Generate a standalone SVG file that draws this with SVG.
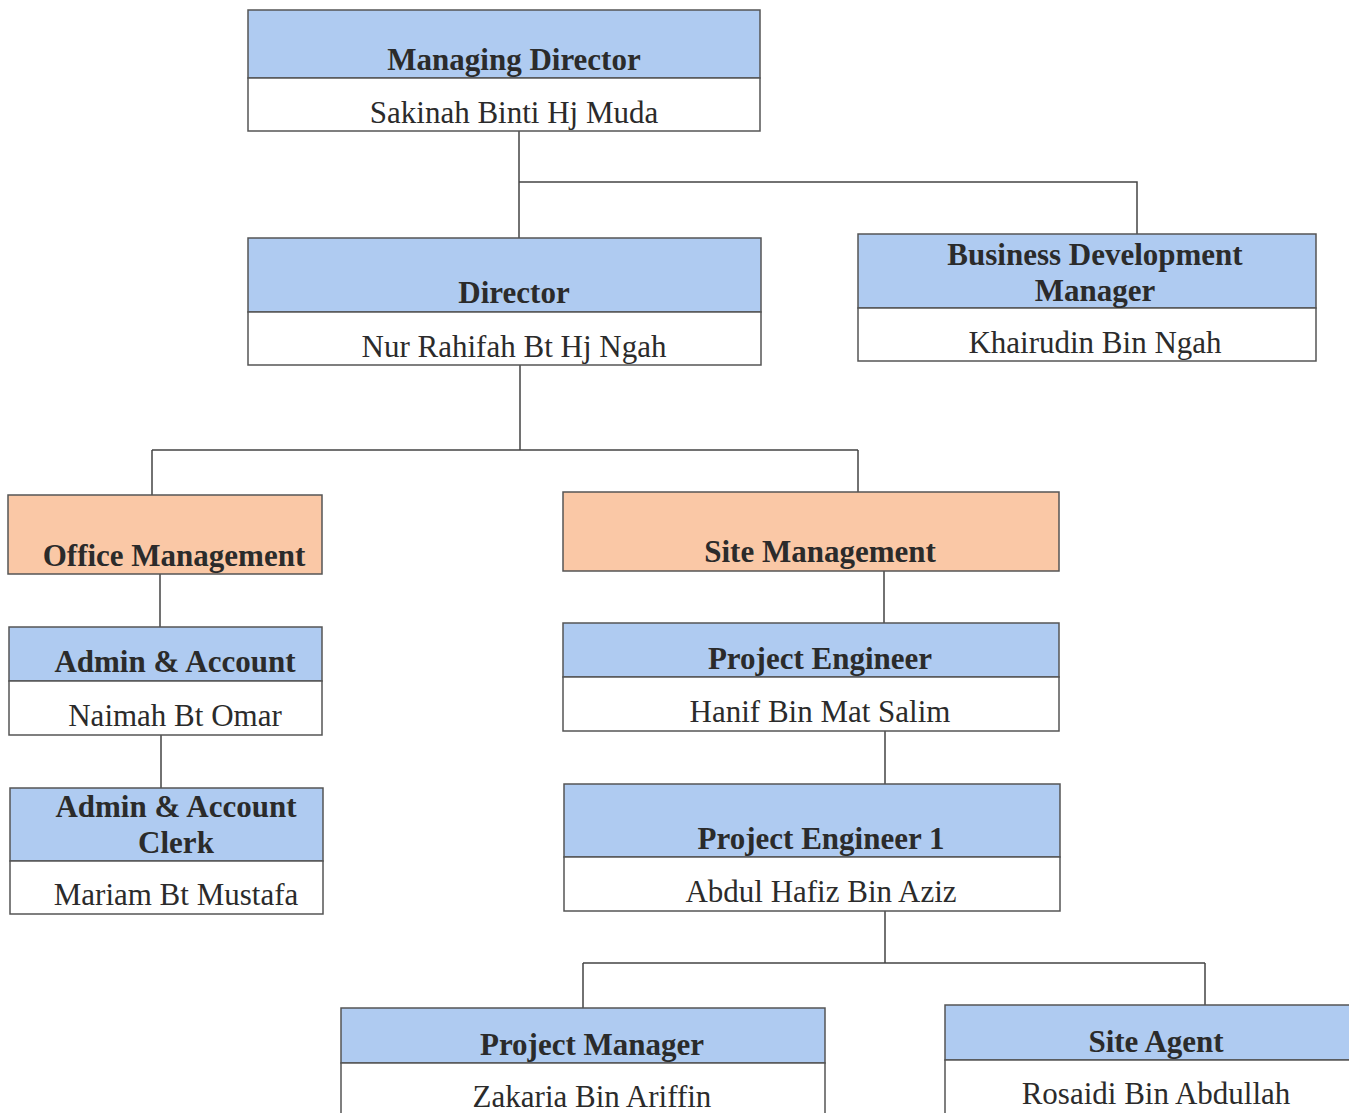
<svg xmlns="http://www.w3.org/2000/svg" width="1349" height="1113" viewBox="0 0 1349 1113">
<style>
.hd{fill:#afcbf1;stroke:#555;stroke-width:1.5}
.or{fill:#fac8a6;stroke:#555;stroke-width:1.5}
.bd{fill:#fff;stroke:#555;stroke-width:1.5}
.t{font-family:"Liberation Serif","Times New Roman",serif;font-size:31px;fill:#2b2b2b;text-anchor:middle}
.b{font-weight:bold}
.c{fill:none;stroke:#444;stroke-width:1.5}
</style>
<rect width="1349" height="1113" fill="#fff"/>
<g id="connectors">
<path class="c" d="M519 131V238M519 182H1137V234"/>
<path class="c" d="M520 365V450M152 450H858M152 450V495M858 450V492"/>
<path class="c" d="M160 574V627M161 735V788"/>
<path class="c" d="M884 571V623M885 731V784M885 911V963M583 963H1205M583 963V1008M1205 963V1005"/>
</g>
<g id="managing-director">
<rect class="hd" x="248" y="10" width="512" height="68"/>
<rect class="bd" x="248" y="78" width="512" height="53"/>
<text class="t b" x="514" y="70">Managing Director</text>
<text class="t" x="514" y="123">Sakinah Binti Hj Muda</text>
</g>
<g id="director">
<rect class="hd" x="248" y="238" width="513" height="74"/>
<rect class="bd" x="248" y="312" width="513" height="53"/>
<text class="t b" x="514" y="303">Director</text>
<text class="t" x="514" y="357">Nur Rahifah Bt Hj Ngah</text>
</g>
<g id="business-development-manager">
<rect class="hd" x="858" y="234" width="458" height="74"/>
<rect class="bd" x="858" y="308" width="458" height="53"/>
<text class="t b" x="1095" y="265">Business Development</text>
<text class="t b" x="1095" y="301">Manager</text>
<text class="t" x="1095" y="353">Khairudin Bin Ngah</text>
</g>
<g id="office-management">
<rect class="or" x="8" y="495" width="314" height="79"/>
<text class="t b" x="174" y="566">Office Management</text>
</g>
<g id="site-management">
<rect class="or" x="563" y="492" width="496" height="79"/>
<text class="t b" x="820" y="562">Site Management</text>
</g>
<g id="admin-account">
<rect class="hd" x="9" y="627" width="313" height="54"/>
<rect class="bd" x="9" y="681" width="313" height="54"/>
<text class="t b" x="175" y="672">Admin &amp; Account</text>
<text class="t" x="175" y="726">Naimah Bt Omar</text>
</g>
<g id="admin-account-clerk">
<rect class="hd" x="10" y="788" width="313" height="73"/>
<rect class="bd" x="10" y="861" width="313" height="53"/>
<text class="t b" x="176" y="817">Admin &amp; Account</text>
<text class="t b" x="176" y="853">Clerk</text>
<text class="t" x="176" y="905">Mariam Bt Mustafa</text>
</g>
<g id="project-engineer">
<rect class="hd" x="563" y="623" width="496" height="54"/>
<rect class="bd" x="563" y="677" width="496" height="54"/>
<text class="t b" x="820" y="669">Project Engineer</text>
<text class="t" x="820" y="722">Hanif Bin Mat Salim</text>
</g>
<g id="project-engineer-1">
<rect class="hd" x="564" y="784" width="496" height="73"/>
<rect class="bd" x="564" y="857" width="496" height="54"/>
<text class="t b" x="821" y="849">Project Engineer 1</text>
<text class="t" x="821" y="902">Abdul Hafiz Bin Aziz</text>
</g>
<g id="project-manager">
<rect class="hd" x="341" y="1008" width="484" height="55"/>
<rect class="bd" x="341" y="1063" width="484" height="60"/>
<text class="t b" x="592" y="1055">Project Manager</text>
<text class="t" x="592" y="1107">Zakaria Bin Ariffin</text>
</g>
<g id="site-agent">
<rect class="hd" x="945" y="1005" width="410" height="55"/>
<rect class="bd" x="945" y="1060" width="410" height="60"/>
<text class="t b" x="1156" y="1052">Site Agent</text>
<text class="t" x="1156" y="1104">Rosaidi Bin Abdullah</text>
</g>
</svg>
